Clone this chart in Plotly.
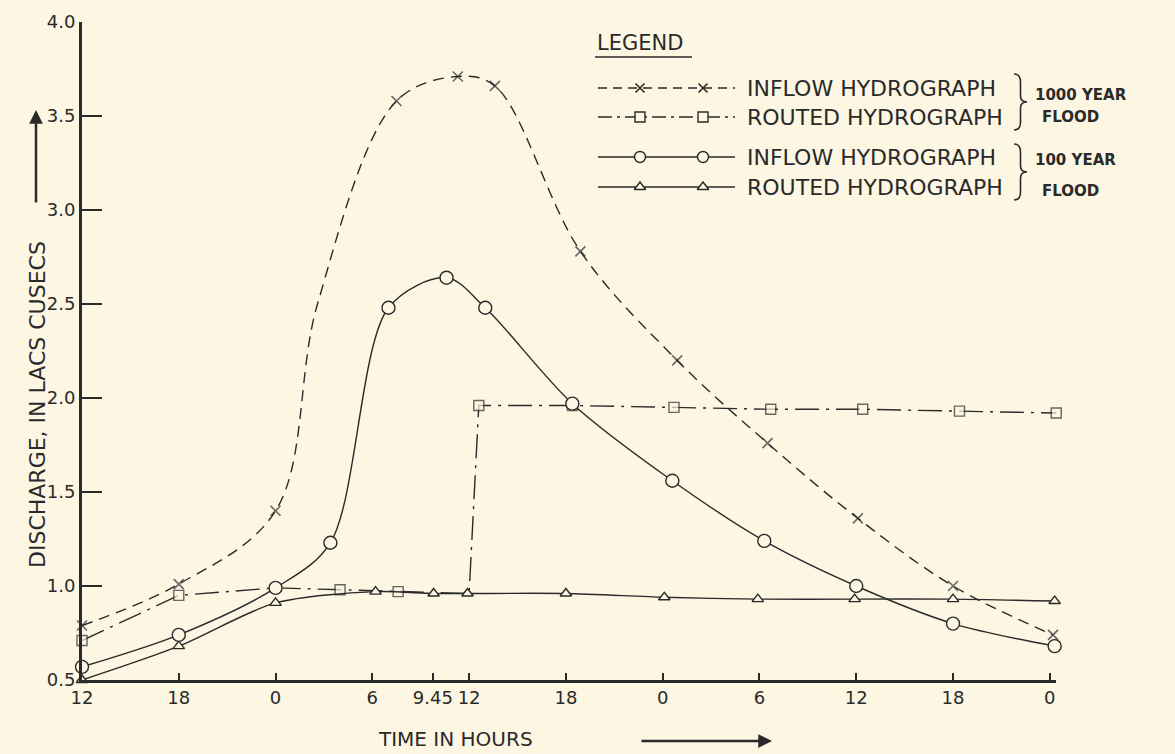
import plotly.graph_objects as go

W, H = 1175, 754
BG = "#fcf6e2"
INK = "#2a2a2a"
FONT = "DejaVu Sans"

# ---- data (time in hours from 12:00 of first day, discharge in lacs cusecs) ----
tick_hours = [0, 6, 12, 18, 21.75, 24, 30, 36, 42, 48, 54, 60]
tick_labels = ["12", "18", "0", "6", "9.45", "12", "18", "0", "6", "12", "18", "0"]
y_ticks = [0.5, 1.0, 1.5, 2.0, 2.5, 3.0, 3.5, 4.0]
y_labels = ["0.5", "1.0", "1.5", "2.0", "2.5", "3.0", "3.5", "4.0"]

inflow_1000_h = [0, 6, 12, 14.6, 19.5, 23.3, 25.6, 30.9, 36.9, 42.5, 48.1, 54.0, 60.2]
inflow_1000_q = [0.79, 1.01, 1.40, 2.50, 3.58, 3.71, 3.66, 2.78, 2.20, 1.76, 1.36, 1.00, 0.74]
inflow_1000_marked = [1, 1, 1, 0, 1, 1, 1, 1, 1, 1, 1, 1, 1]

routed_1000_h = [0, 6, 12, 16.0, 19.6, 24.0, 24.6, 30.4, 36.7, 42.7, 48.4, 54.4, 60.4]
routed_1000_q = [0.71, 0.95, 0.99, 0.98, 0.97, 0.96, 1.96, 1.96, 1.95, 1.94, 1.94, 1.93, 1.92]
routed_1000_marked = [1, 1, 0, 1, 1, 0, 1, 1, 1, 1, 1, 1, 1]

inflow_100_h = [0, 6, 12, 15.4, 19.0, 22.6, 25.0, 30.4, 36.6, 42.3, 48.0, 54.0, 60.3]
inflow_100_q = [0.57, 0.74, 0.99, 1.23, 2.48, 2.64, 2.48, 1.97, 1.56, 1.24, 1.00, 0.80, 0.68]

routed_100_h = [0, 6, 12, 18.2, 21.8, 23.9, 30.0, 36.1, 41.9, 47.9, 54.0, 60.3]
routed_100_q = [0.50, 0.68, 0.91, 0.97, 0.96, 0.96, 0.96, 0.94, 0.93, 0.93, 0.93, 0.92]

legend_rows = ["INFLOW HYDROGRAPH", "ROUTED HYDROGRAPH", "INFLOW HYDROGRAPH", "ROUTED HYDROGRAPH"]
legend_groups = [("1000 YEAR", "FLOOD"), ("100 YEAR", "FLOOD")]

# ---- layout geometry (pixels) ----
X_MAX = 60.4
PX_PER_H = 16.13
PX_L, PX_T, PX_B = 82, 22, 680
PX_R = PX_L + X_MAX * PX_PER_H

fig = go.Figure()

mk_line = dict(color=INK, width=1.4)

fig.add_trace(go.Scatter(
    x=inflow_1000_h, y=inflow_1000_q, mode="lines+markers",
    line=dict(color=INK, width=1.4, dash="11px,7px", shape="spline", smoothing=1.0),
    marker=dict(symbol="x-thin-open", size=[10 * m for m in inflow_1000_marked],
                color=INK, line=dict(color=INK, width=1.6)),
    cliponaxis=False, showlegend=False))

fig.add_trace(go.Scatter(
    x=routed_1000_h, y=routed_1000_q, mode="lines+markers",
    line=dict(color=INK, width=1.4, dash="24px,7px,3px,7px"),
    marker=dict(symbol="square", size=[10 * m for m in routed_1000_marked],
                color=BG, line=mk_line),
    cliponaxis=False, showlegend=False))

fig.add_trace(go.Scatter(
    x=routed_100_h, y=routed_100_q, mode="lines+markers",
    line=dict(color=INK, width=1.4, shape="spline", smoothing=0.8),
    marker=dict(symbol="triangle-up", size=10, color=BG, line=mk_line),
    cliponaxis=False, showlegend=False))

fig.add_trace(go.Scatter(
    x=inflow_100_h, y=inflow_100_q, mode="lines+markers",
    line=dict(color=INK, width=1.4, shape="spline", smoothing=0.9),
    marker=dict(symbol="circle", size=13, color=BG, line=mk_line),
    cliponaxis=False, showlegend=False))

# ---- legend glyphs in a pixel-coordinate overlay subplot ----
row_y = [88, 117, 157, 187]
glyph_x0, glyph_x1 = 598, 735
glyph_mk = [640, 703]
styles = [
    dict(line=dict(color=INK, width=1.4, dash="9px,6px"),
         marker=dict(symbol="x-thin-open", size=9, color=INK, line=dict(color=INK, width=1.6))),
    dict(line=dict(color=INK, width=1.4, dash="14px,5px,3px,5px"),
         marker=dict(symbol="square", size=10, color=BG, line=mk_line)),
    dict(line=dict(color=INK, width=1.4),
         marker=dict(symbol="circle", size=11, color=BG, line=mk_line)),
    dict(line=dict(color=INK, width=1.4),
         marker=dict(symbol="triangle-up", size=10, color=BG, line=mk_line)),
]
for ry, st in zip(row_y, styles):
    fig.add_trace(go.Scatter(x=[glyph_x0, glyph_x1], y=[ry, ry], mode="lines",
                             line=st["line"], xaxis="x2", yaxis="y2",
                             showlegend=False, hoverinfo="skip"))
    fig.add_trace(go.Scatter(x=glyph_mk, y=[ry, ry], mode="markers",
                             marker=st["marker"], xaxis="x2", yaxis="y2",
                             showlegend=False, hoverinfo="skip"))

annotations = []
for ry, txt in zip(row_y, legend_rows):
    annotations.append(dict(x=745, y=ry, xref="x2", yref="y2", text=txt, showarrow=False,
                            xanchor="left", yanchor="middle",
                            font=dict(family=FONT, size=22, color=INK)))
annotations.append(dict(x=595, y=43, xref="x2", yref="y2", text="LEGEND", showarrow=False,
                        xanchor="left", yanchor="middle",
                        font=dict(family=FONT, size=21, color=INK)))
group_pos = [(95, 117), (160, 191)]
for (g1, g2), (y1, y2) in zip(legend_groups, group_pos):
    annotations.append(dict(x=1033, y=y1, xref="x2", yref="y2", text="<b>" + g1 + "</b>",
                            showarrow=False, xanchor="left", yanchor="middle",
                            font=dict(family=FONT, size=15, color=INK)))
    annotations.append(dict(x=1040, y=y2, xref="x2", yref="y2", text="<b>" + g2 + "</b>",
                            showarrow=False, xanchor="left", yanchor="middle",
                            font=dict(family=FONT, size=15, color=INK)))

# axis titles with arrows
annotations.append(dict(x=37, y=405, xref="x2", yref="y2", text="DISCHARGE, IN LACS CUSECS",
                        textangle=-90, showarrow=False,
                        font=dict(family=FONT, size=22, color=INK)))
annotations.append(dict(x=36, y=110, ax=36, ay=204, xref="x2", yref="y2", axref="x2", ayref="y2",
                        text="", showarrow=True, arrowhead=2, arrowsize=1.1, arrowwidth=2.5,
                        arrowcolor=INK))
annotations.append(dict(x=455, y=739, xref="x2", yref="y2", text="TIME IN HOURS",
                        showarrow=False, font=dict(family=FONT, size=20, color=INK)))
annotations.append(dict(x=772, y=741, ax=640, ay=741, xref="x2", yref="y2", axref="x2", ayref="y2",
                        text="", showarrow=True, arrowhead=2, arrowsize=1.1, arrowwidth=2.5,
                        arrowcolor=INK))

shapes = [
    dict(type="line", xref="x2", yref="y2", x0=595, x1=692, y0=57, y1=57,
         line=dict(color=INK, width=1.3)),
]
def brace(y0, y1, x=1014, w=13):
    ym = (y0 + y1) / 2
    xm = x + w * 0.5
    return (f"M {x},{y0} Q {xm},{y0} {xm},{y0+8} L {xm},{ym-6} "
            f"Q {xm},{ym} {x+w},{ym} Q {xm},{ym} {xm},{ym+6} "
            f"L {xm},{y1-8} Q {xm},{y1} {x},{y1}")
for (b0, b1) in [(74, 130), (144, 200)]:
    shapes.append(dict(type="path", xref="x2", yref="y2", path=brace(b0, b1),
                       line=dict(color=INK, width=1.6)))

fig.update_layout(
    width=W, height=H,
    margin=dict(l=0, r=0, t=0, b=0, pad=0, autoexpand=False),
    paper_bgcolor=BG, plot_bgcolor="rgba(0,0,0,0)",
    font=dict(family=FONT, color=INK),
    xaxis=dict(domain=[PX_L / W, PX_R / W], range=[0, X_MAX], tickmode="array",
               tickvals=tick_hours, ticktext=tick_labels, ticks="inside", ticklen=7,
               tickwidth=1.5, tickcolor=INK, showline=True, linecolor=INK, linewidth=2.5,
               showgrid=False, zeroline=False, automargin=False,
               tickfont=dict(family=FONT, size=18, color=INK)),
    yaxis=dict(domain=[1 - PX_B / H, 1 - PX_T / H], range=[0.5, 4.0], tickmode="array",
               tickvals=y_ticks, ticktext=y_labels, ticks="inside", ticklen=20, tickwidth=2,
               tickcolor=INK, showline=True, linecolor=INK, linewidth=3, showgrid=False,
               zeroline=False, automargin=False,
               tickfont=dict(family=FONT, size=18, color=INK)),
    xaxis2=dict(domain=[0, 1], range=[0, W], visible=False, anchor="y2", fixedrange=True,
                automargin=False),
    yaxis2=dict(domain=[0, 1], range=[H, 0], visible=False, anchor="x2", fixedrange=True,
                automargin=False),
    annotations=annotations,
    shapes=shapes,
)

fig.write_html("out.html", config={"displayModeBar": False},
               post_script="document.body.style.margin='0';")
